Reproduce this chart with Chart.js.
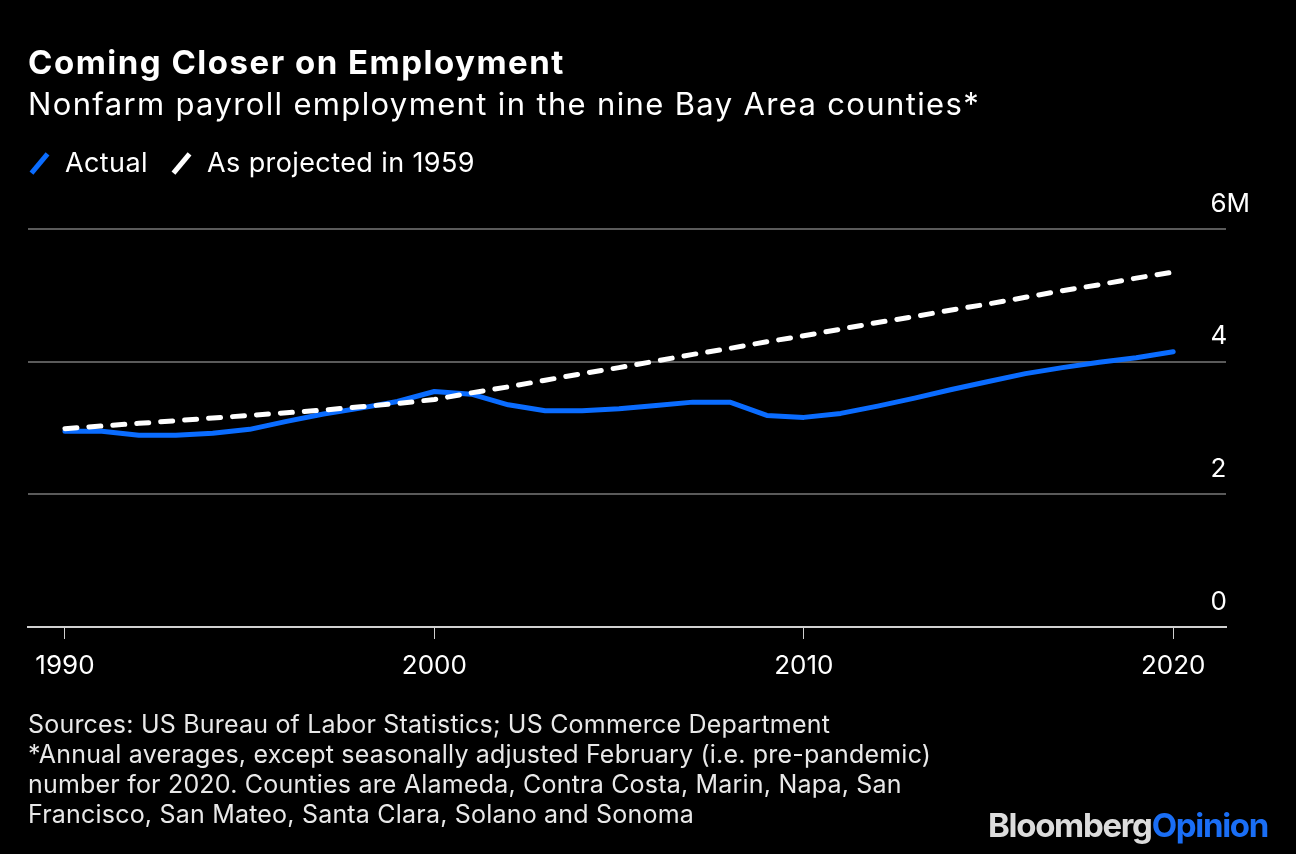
<!DOCTYPE html>
<html>
<head>
<meta charset="utf-8">
<script src="https://cdn.jsdelivr.net/npm/chart.js@4"></script>
<style>
  body { margin: 0; background: #000; }
  .wrap { position: relative; width: 1296px; height: 854px; background: #000; overflow: hidden; font-family: Inter, "Liberation Sans", sans-serif; color: #fff; }
  #chart { position: absolute; left: 0; top: 0; }
  .title { position: absolute; left: 28px; top: 42px; font-size: 33px; font-weight: 700; line-height: 40px; letter-spacing: 1.5px; }
  .subtitle { position: absolute; left: 28px; top: 85px; font-size: 31px; line-height: 38px; letter-spacing: 1.35px; }
  .legend { position: absolute; left: 28px; top: 146px; font-size: 27px; line-height: 34px; display: flex; align-items: center; letter-spacing: 0.4px; }
  .legend .sw { display: inline-block; width: 5px; height: 25px; transform: rotate(40deg); margin: 0 23px 0 9px; }
  .legend .item { display: flex; align-items: center; margin-right: 22px; }
  .notes { position: absolute; left: 28px; top: 709px; font-size: 25px; line-height: 30px; color: #e8e8e8; letter-spacing: 0.2px; }
  .logo { position: absolute; right: 28px; top: 805px; font-size: 33px; font-weight: 700; letter-spacing: -1.3px; line-height: 40px; }
</style>
</head>
<body>
<div class="wrap">
  <canvas id="chart" width="1296" height="854"></canvas>
  <div class="title">Coming Closer on Employment</div>
  <div class="subtitle">Nonfarm payroll employment in the nine Bay Area counties*</div>
  <div class="legend">
    <span class="item"><span class="sw" style="background:#0a6cff"></span>Actual</span>
    <span class="item"><span class="sw" style="background:#fff"></span>As projected in 1959</span>
  </div>
  <div class="notes">
    Sources: US Bureau of Labor Statistics; US Commerce Department<br>
    *Annual averages, except seasonally adjusted February (i.e. pre-pandemic)<br>
    number for 2020. Counties are Alameda, Contra Costa, Marin, Napa, San<br>
    Francisco, San Mateo, Santa Clara, Solano and Sonoma
  </div>
  <div class="logo"><span style="color:#dcdcdc">Bloomberg</span><span style="color:#1a6ef5">Opinion</span></div>
</div>

<script>
// years on the x axis
const years = [1990, 1991, 1992, 1993, 1994, 1995, 1996, 1997, 1998, 1999,
               2000, 2001, 2002, 2003, 2004, 2005, 2006, 2007, 2008, 2009,
               2010, 2011, 2012, 2013, 2014, 2015, 2016, 2017, 2018, 2019, 2020];

// actual employment, millions
const actual = [2.95, 2.95, 2.89, 2.89, 2.92, 2.98, 3.10, 3.21, 3.30, 3.40,
                3.55, 3.51, 3.35, 3.26, 3.26, 3.29, 3.34, 3.39, 3.39, 3.19,
                3.16, 3.22, 3.33, 3.45, 3.58, 3.70, 3.82, 3.91, 3.99, 4.06, 4.15];

// 1959 projection, millions
const projected = [2.99, 3.03, 3.07, 3.11, 3.15, 3.19, 3.23, 3.27, 3.32, 3.37,
                   3.43, 3.53, 3.62, 3.72, 3.82, 3.91, 4.01, 4.11, 4.20, 4.30,
                   4.39, 4.49, 4.59, 4.68, 4.78, 4.87, 4.97, 5.07, 5.16, 5.26, 5.35];

const xTicks = [1990, 2000, 2010, 2020];
const yTicks = [0, 2, 4, 6];

const toPoints = (arr) => years.map((yr, i) => ({ x: yr, y: arr[i] }));

const tickFont = { family: 'Inter, "Liberation Sans", sans-serif', size: 26 };

const ctx = document.getElementById('chart').getContext('2d');
new Chart(ctx, {
    type: 'line',
    data: {
        datasets: [
            {
                label: 'As projected in 1959',
                data: toPoints(projected),
                borderColor: '#ffffff',
                borderWidth: 5,
                borderDash: [12, 12],
                borderCapStyle: 'round',
                pointRadius: 0,
                tension: 0
            },
            {
                label: 'Actual',
                data: toPoints(actual),
                borderColor: '#0a6cff',
                borderWidth: 5,
                borderCapStyle: 'round',
                borderJoinStyle: 'round',
                pointRadius: 0,
                tension: 0
            }
        ]
    },
    options: {
        responsive: false,
        animation: false,
        layout: { padding: { left: 28, top: 229, right: 44, bottom: 172 } },
        plugins: { legend: { display: false }, tooltip: { enabled: false } },
        scales: {
            x: {
                type: 'linear',
                min: 1989,
                max: 2021.43,
                afterBuildTicks: (axis) => { axis.ticks = xTicks.map(v => ({ value: v })); },
                afterFit: (axis) => { axis.height = 55; },
                border: { display: true, color: '#d0d0d0', width: 2 },
                grid: { display: true, drawOnChartArea: false, drawTicks: true, tickLength: 12, color: '#d0d0d0', lineWidth: 1 },
                ticks: {
                    color: '#ffffff',
                    padding: 12,
                    maxRotation: 0,
                    font: tickFont,
                    callback: (v) => String(v)
                }
            },
            y: {
                position: 'right',
                min: 0,
                max: 6,
                afterBuildTicks: (axis) => { axis.ticks = yTicks.map(v => ({ value: v })); },
                afterFit: (axis) => { axis.width = 26; },
                border: { display: false },
                grid: {
                    drawTicks: false,
                    color: (c) => c.tick && c.tick.value === 0 ? 'rgba(0,0,0,0)' : '#5a5a5a',
                    lineWidth: 2
                },
                ticks: {
                    color: '#ffffff',
                    mirror: true,
                    crossAlign: 'far',
                    labelOffset: -25,
                    padding: 24,
                    font: tickFont,
                    callback: (v) => v === 6 ? '6M' : String(v)
                }
            }
        }
    }
});
</script>
</body>
</html>
